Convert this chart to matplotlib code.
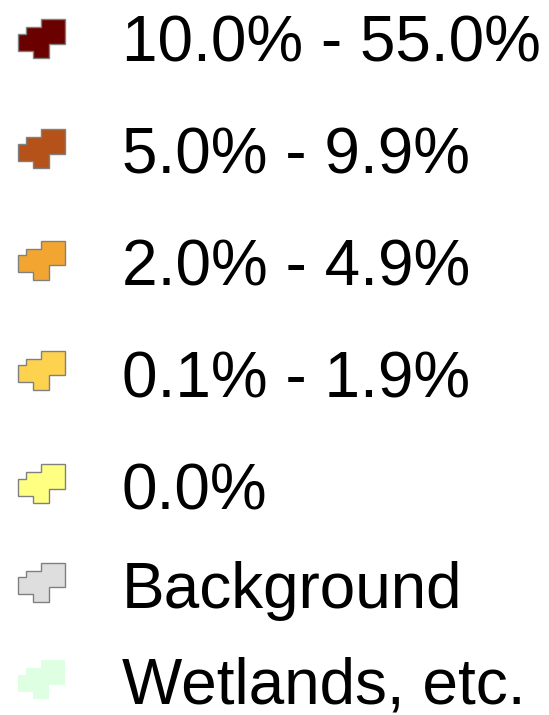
import matplotlib.pyplot as plt
from matplotlib.patches import Polygon

# legend entries
labels = ["10.0% - 55.0%", "5.0% - 9.9%", "2.0% - 4.9%", "0.1% - 1.9%",
          "0.0%", "Background", "Wetlands, etc."]
fill_colors = ["#6b0000", "#b5521a", "#f2a631", "#fdd24f", "#ffff82",
               "#dedede", "#dfffe3"]
edge_colors = ["#808080"] * 6 + ["none"]

# layout (pixels, top-down)
baselines = [62, 173.5, 285, 397, 509, 608, 703]
icon_tops = [19.3, 129.3, 240.7, 350.7, 464.3, 562.7, 660]
text_x = 122

# stepped icon outline, relative to icon top
icon_shape = [(41, 0), (65, 0), (65, 24.7), (49.3, 24.7), (49.3, 39),
              (33.3, 39), (33.3, 31.7), (17.7, 31.7), (17.7, 14.7),
              (25.7, 14.7), (25.7, 8), (41, 8)]

plt.rcParams["font.family"] = ["Liberation Sans", "DejaVu Sans"]

fig = plt.figure(figsize=(5.49, 7.15), dpi=100)
ax = fig.add_axes([0, 0, 1, 1])
ax.set_xlim(0, 549)
ax.set_ylim(715, 0)
ax.axis("off")

for lab, fc, ec, top, base in zip(labels, fill_colors, edge_colors, icon_tops, baselines):
    pts = [(x, y + top) for x, y in icon_shape]
    ax.add_patch(Polygon(pts, closed=True, facecolor=fc, edgecolor=ec,
                         linewidth=1.0, joinstyle="miter"))
    ax.text(text_x, base, lab, fontsize=46, va="baseline", ha="left", color="black")

fig.savefig("out.png", dpi=100)
